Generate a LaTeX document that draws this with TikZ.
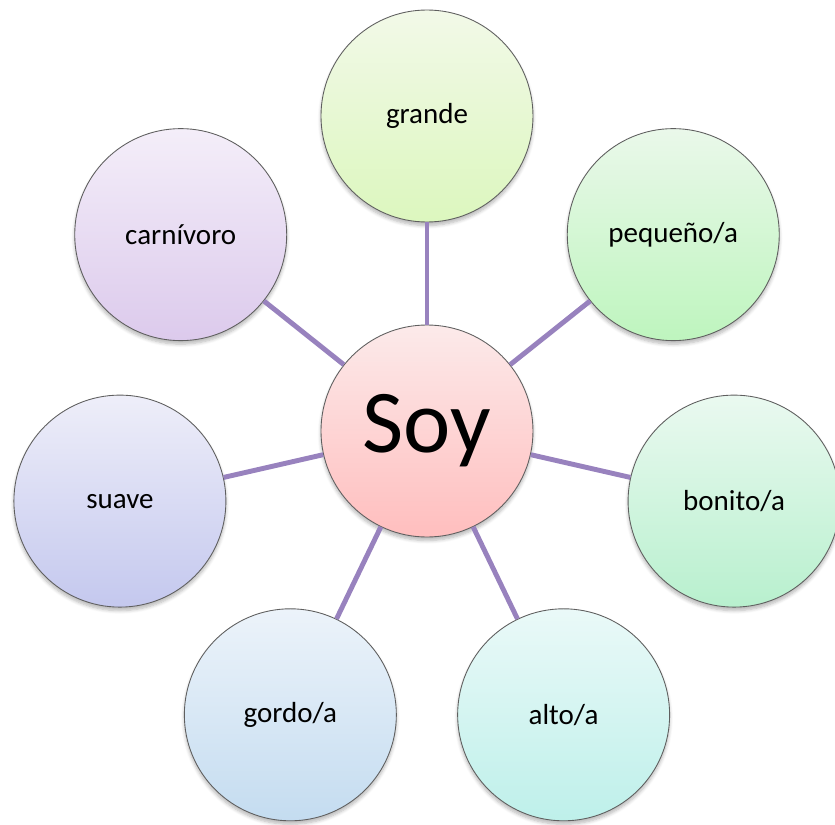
\documentclass[tikz,border=0pt]{standalone}
\usepackage{fontspec}
\setmainfont{Carlito}
\usepackage{tikz}
\usepackage{xcolor}
\usetikzlibrary{shadows.blur}
\definecolor{LinkPurple}{RGB}{152,130,190}
\definecolor{RimGray}{RGB}{95,95,95}

\begin{document}
\begin{tikzpicture}[
    bubble/.style={circle, draw=RimGray, line width=0.5pt, minimum size=4.24cm, inner sep=0pt,
      font=\fontsize{16.5}{18}\selectfont,
      blur shadow={shadow blur steps=6, shadow xshift=0pt, shadow yshift=-2pt, shadow opacity=28}},
    link/.style={draw=LinkPurple, line width=2.8pt}]
  \useasboundingbox (-8.54,-7.88) rectangle (8.16,8.62);

  \node[bubble, top color={rgb,255:red,252;green,234;blue,234}, bottom color={rgb,255:red,255;green,190;blue,190},
    font=\fontsize{51}{56}\selectfont] (soy) at (0,0) {Soy};

  \node[bubble, top color={rgb,255:red,242;green,249;blue,232}, bottom color={rgb,255:red,220;green,247;blue,190}] (grande) at (90:6.3) {grande};
  \node[bubble, top color={rgb,255:red,234;green,248;blue,234}, bottom color={rgb,255:red,190;green,245;blue,190}] (pequeno) at (38.57:6.3) {pequeño/a};
  \node[bubble, top color={rgb,255:red,234;green,249;blue,240}, bottom color={rgb,255:red,184;green,240;blue,206}] (bonito) at (-12.86:6.3) {bonito/a};
  \node[bubble, top color={rgb,255:red,234;green,249;blue,248}, bottom color={rgb,255:red,190;green,240;blue,234}] (alto) at (-64.29:6.3) {alto/a};
  \node[bubble, top color={rgb,255:red,236;green,243;blue,250}, bottom color={rgb,255:red,196;green,220;blue,240}] (gordo) at (-115.71:6.3) {gordo/a};
  \node[bubble, top color={rgb,255:red,238;green,238;blue,249}, bottom color={rgb,255:red,196;green,200;blue,238}] (suave) at (-167.14:6.3) {suave};
  \node[bubble, top color={rgb,255:red,244;green,238;blue,249}, bottom color={rgb,255:red,220;green,202;blue,236}] (carnivoro) at (141.43:6.3) {carnívoro};

  \draw[link] (soy) -- (grande);
  \draw[link] (soy) -- (pequeno);
  \draw[link] (soy) -- (bonito);
  \draw[link] (soy) -- (alto);
  \draw[link] (soy) -- (gordo);
  \draw[link] (soy) -- (suave);
  \draw[link] (soy) -- (carnivoro);
\end{tikzpicture}
\end{document}
